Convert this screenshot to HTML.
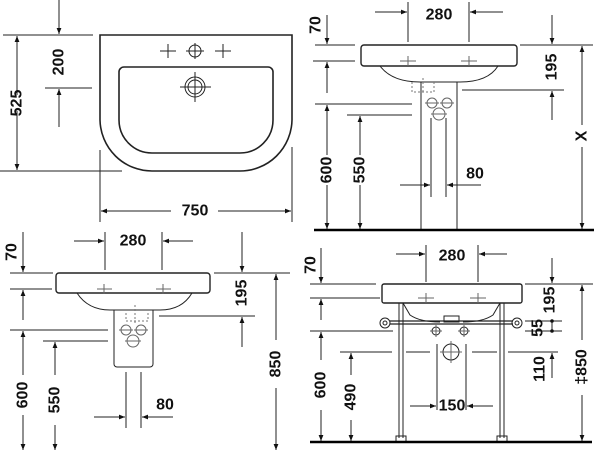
<!DOCTYPE html>
<html><head><meta charset="utf-8"><style>
html,body{margin:0;padding:0;background:#fff;width:600px;height:450px;overflow:hidden}
svg{display:block}
text{font-family:"Liberation Sans",sans-serif;font-weight:bold;font-size:16px;fill:#111}
</style></head><body>
<svg width="600" height="450" viewBox="0 0 600 450" xmlns="http://www.w3.org/2000/svg">
<defs>
<marker id="a" viewBox="0 0 10 10" refX="10" refY="5" markerWidth="8" markerHeight="6" orient="auto-start-reverse" markerUnits="userSpaceOnUse"><path d="M0,1 L10,5 L0,9 z" fill="#111"/></marker>
</defs>
<g stroke="#222" stroke-width="1" fill="none">
<!-- Q1 plan view -->
<path d="M100,35 H292 V120 A52,52 0 0 1 240,171 H152 A52,52 0 0 1 100,120 Z" stroke-width="1.6"/>
<path d="M124,67 H268 A5,5 0 0 1 273,72 V120 A33,33 0 0 1 240,153 H152 A33,33 0 0 1 119,120 V72 A5,5 0 0 1 124,67 Z" stroke-width="1.6"/>
<circle cx="195" cy="51" r="6"/><path d="M186,51h18M195,43v16"/>
<path d="M160,51h16M168,44v14M215,51h16M223,44v14"/>
<circle cx="195" cy="87" r="10"/><circle cx="195" cy="87" r="7"/><path d="M180,87h31M195,72v30"/>
<path d="M3,35H93M45,88H92M0,171H122M100,150V222M292,147V222"/>
<path d="M59,0V34" marker-end="url(#a)"/><path d="M59,127V89" marker-end="url(#a)"/>
<path d="M17,95V36" marker-end="url(#a)"/><path d="M17,111V170" marker-end="url(#a)"/>
<path d="M171,211H101" marker-end="url(#a)"/><path d="M218,211H291" marker-end="url(#a)"/>
<!-- Q2 side view pedestal -->
<rect x="361" y="45" width="156" height="21" rx="3" stroke-width="1.4"/>
<path d="M380,66 Q392,82 420,82 H460 Q488,82 498,66"/>
<path d="M421,82V230M457,82V230"/>
<path d="M400,61h16M408,56v10M461,61h16M469,56v10" stroke="#666"/>
<path d="M412,82V92h22V82M423,78v16" stroke="#777" stroke-dasharray="2,2"/>
<circle cx="432" cy="103" r="5" stroke="#666"/><circle cx="447" cy="103" r="5" stroke="#666"/><circle cx="439" cy="114" r="6" stroke="#666"/>
<path d="M425,103h14M440,103h14M431,114h16" stroke="#666"/>
<path d="M431,118V197M446,118V197"/>
<path d="M408,2V42M469,2V42"/>
<path d="M375,12H407" marker-end="url(#a)"/><path d="M503,12H470" marker-end="url(#a)"/>
<path d="M315,45H355M313,61H355M315,104H412M347,115H412M520,45H593M462,90H564"/>
<path d="M327,15V44" marker-end="url(#a)"/><path d="M327,93V62" marker-end="url(#a)"/>
<path d="M327,155V105" marker-end="url(#a)"/><path d="M327,185V229" marker-end="url(#a)"/>
<path d="M360,155V116" marker-end="url(#a)"/><path d="M360,185V229" marker-end="url(#a)"/>
<path d="M400,185H430" marker-end="url(#a)"/><path d="M481,185H447" marker-end="url(#a)"/>
<path d="M552,15V44" marker-end="url(#a)"/><path d="M552,120V91" marker-end="url(#a)"/>
<path d="M582,125V46" marker-end="url(#a)"/><path d="M582,147V229" marker-end="url(#a)"/>
<path d="M314,230H594" stroke="#000" stroke-width="2.5"/>
<!-- Q3 wall-hung with half pedestal -->
<rect x="56" y="273" width="154" height="20" rx="3" stroke-width="1.4"/>
<path d="M77,293 Q88,310 110,310 H160 Q182,310 192,293"/>
<path d="M114,310V364a3,3 0 0 0 3,3H150a3,3 0 0 0 3,-3V310"/>
<path d="M97,289h15M104,284v10M156,289h15M163,284v10" stroke="#666"/>
<path d="M126,313v8h22v-8M135,305v18" stroke="#777" stroke-dasharray="2,2"/>
<circle cx="126" cy="330" r="5" stroke="#666"/><circle cx="141" cy="330" r="5" stroke="#666"/><circle cx="133" cy="341" r="6" stroke="#666"/>
<path d="M119,330h14M134,330h14M125,341h16" stroke="#666"/>
<path d="M126,372V428M141,372V428"/>
<path d="M105,232V270M162,232V270"/>
<path d="M74,241H104" marker-end="url(#a)"/><path d="M193,241H163" marker-end="url(#a)"/>
<path d="M10,273H53M10,289H52M10,330H108M43,341H108M214,273H290M159,316H255"/>
<path d="M23,232V272" marker-end="url(#a)"/><path d="M23,320V290" marker-end="url(#a)"/>
<path d="M23,375V331" marker-end="url(#a)"/><path d="M23,415V450" marker-end="url(#a)"/>
<path d="M55,375V342" marker-end="url(#a)"/><path d="M55,425V450" marker-end="url(#a)"/>
<path d="M94,417H125" marker-end="url(#a)"/><path d="M173,417H142" marker-end="url(#a)"/>
<path d="M242,232V272" marker-end="url(#a)"/><path d="M242,347V317" marker-end="url(#a)"/>
<path d="M276,340V274" marker-end="url(#a)"/><path d="M276,388V450" marker-end="url(#a)"/>
<!-- Q4 console -->
<rect x="382" y="284" width="140" height="19" rx="2" stroke-width="1.4"/>
<path d="M403,303 L410,315 Q420,322 440,322 M500,303 L493,315 Q483,322 463,322"/>
<rect x="444" y="316" width="15" height="6"/>
<path d="M399,303V438M403,303V438M500,303V438M504,303V438"/>
<rect x="396" y="436" width="10" height="6"/><rect x="497" y="436" width="10" height="6"/>
<path d="M390,321H513M390,324H513" stroke-width="1.2"/>
<circle cx="385" cy="323" r="5"/><circle cx="385" cy="323" r="2"/>
<circle cx="517" cy="323" r="5"/><circle cx="517" cy="323" r="2"/>
<path d="M418,298h16M426,293v10M470,298h16M478,293v10" stroke="#666"/>
<circle cx="436" cy="331" r="4"/><circle cx="464" cy="331" r="4"/>
<path d="M430,331h12M436,325v12M458,331h12M464,325v12" stroke="#666"/>
<circle cx="451" cy="352" r="8"/><path d="M440,352h22M451,341v22" stroke="#666"/>
<path d="M437,344V410M466,344V410"/>
<path d="M426,245V282M478,245V282"/>
<path d="M396,254H425" marker-end="url(#a)"/><path d="M507,254H479" marker-end="url(#a)"/>
<path d="M310,284H376M310,298H380M310,331H393M340,352H392M406,352H430M472,352H497M508,352H558M525,284H593M525,321H562M525,331H562"/>
<path d="M321,248V283" marker-end="url(#a)"/><path d="M321,320V299" marker-end="url(#a)"/>
<path d="M321,360V332" marker-end="url(#a)"/><path d="M321,410V441" marker-end="url(#a)"/>
<path d="M351,375V353" marker-end="url(#a)"/><path d="M351,420V441" marker-end="url(#a)"/>
<path d="M410,406H436" marker-end="url(#a)"/><path d="M493,406H467" marker-end="url(#a)"/>
<path d="M552,258V283" marker-end="url(#a)"/><path d="M552,322V332"/>
<path d="M552,378V353" marker-end="url(#a)"/>
<path d="M582,340V285" marker-end="url(#a)"/><path d="M582,395V441" marker-end="url(#a)"/>
<path d="M310,442H592" stroke="#000" stroke-width="2.5"/>
</g>
<circle cx="552" cy="321" r="1.8" fill="#111"/><circle cx="552" cy="331" r="1.8" fill="#111"/>
<g text-anchor="middle" dominant-baseline="central">
<text x="195" y="211" font-size="18">750</text>
<text transform="translate(59,62) rotate(-90)" font-size="18">200</text>
<text transform="translate(17,103) rotate(-90)" font-size="18">525</text>
<text x="439" y="15">280</text>
<text transform="translate(316,25) rotate(-90)" font-size="14">70</text>
<text transform="translate(327,170) rotate(-90)">600</text>
<text transform="translate(360,170) rotate(-90)">550</text>
<text x="475" y="174">80</text>
<text transform="translate(552,67) rotate(-90)">195</text>
<text transform="translate(582,136) rotate(-90)">X</text>
<text x="133" y="241">280</text>
<text transform="translate(12,252) rotate(-90)" font-size="14">70</text>
<text transform="translate(23,395) rotate(-90)">600</text>
<text transform="translate(55,400) rotate(-90)">550</text>
<text x="165" y="405">80</text>
<text transform="translate(242,293) rotate(-90)">195</text>
<text transform="translate(276,364) rotate(-90)">850</text>
<text x="452" y="256">280</text>
<text transform="translate(311,265) rotate(-90)" font-size="14">70</text>
<text transform="translate(321,385) rotate(-90)">600</text>
<text transform="translate(351,397) rotate(-90)">490</text>
<text x="452" y="406">150</text>
<text transform="translate(550,300) rotate(-90)">195</text>
<text transform="translate(538,328) rotate(-90)">55</text>
<text transform="translate(540,369) rotate(-90)">110</text>
<text transform="translate(582,367) rotate(-90)">‡850</text>
</g>
</svg>
</body></html>
